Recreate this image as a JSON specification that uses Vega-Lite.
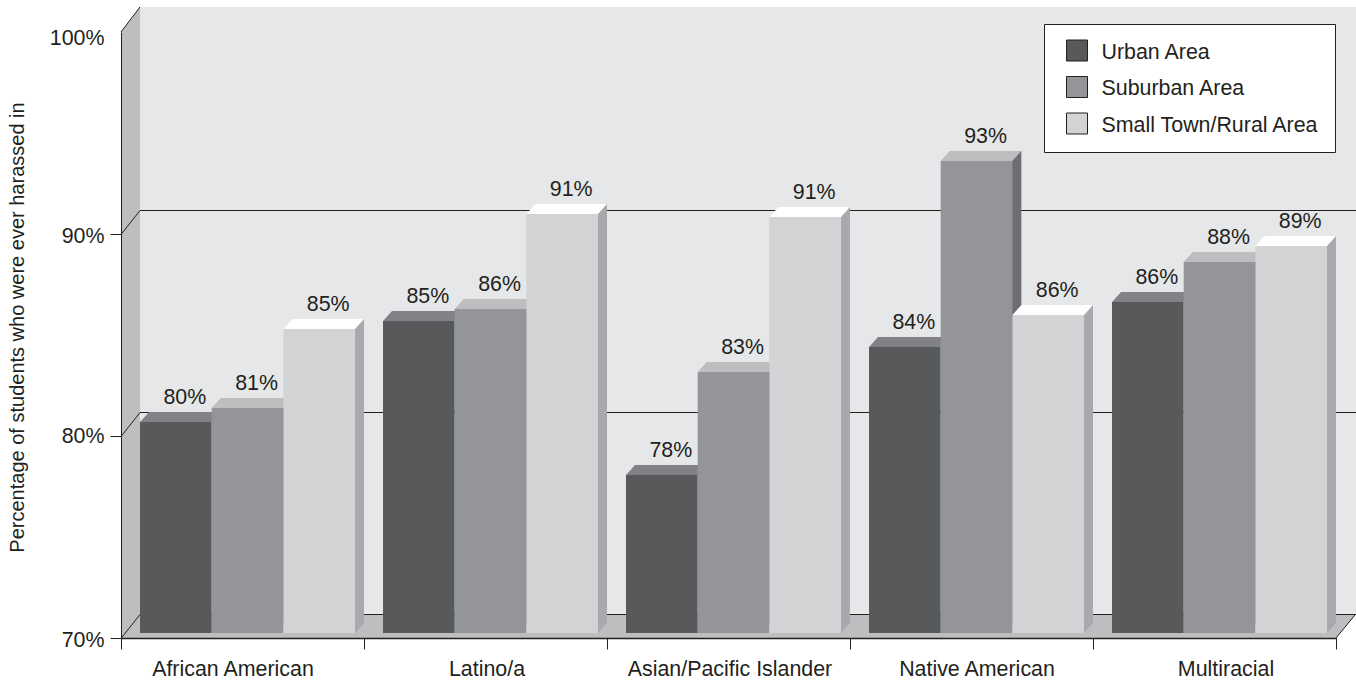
{"$schema":"https://vega.github.io/schema/vega-lite/v6.json","width":1215,"height":606,"autosize":{"type":"none"},"padding":{"left":121,"top":32,"right":20,"bottom":43},"background":"#ffffff",
"config":{"view":{"stroke":null},"font":"Liberation Sans","text":{"font":"Liberation Sans"},"axis":{"labelFont":"Liberation Sans","titleFont":"Liberation Sans","labelColor":"#231f20","titleColor":"#231f20"},"legend":{"labelFont":"Liberation Sans"}},
"datasets":{"bars":[
{"group":"African American","area":"Urban Area","pct":80.45,"label":"80%"},{"group":"African American","area":"Suburban Area","pct":81.14,"label":"81%"},{"group":"African American","area":"Small Town/Rural Area","pct":85.05,"label":"85%"},
{"group":"Latino/a","area":"Urban Area","pct":85.45,"label":"85%"},{"group":"Latino/a","area":"Suburban Area","pct":86.04,"label":"86%"},{"group":"Latino/a","area":"Small Town/Rural Area","pct":90.74,"label":"91%"},
{"group":"Asian/Pacific Islander","area":"Urban Area","pct":77.82,"label":"78%"},{"group":"Asian/Pacific Islander","area":"Suburban Area","pct":82.92,"label":"83%"},{"group":"Asian/Pacific Islander","area":"Small Town/Rural Area","pct":90.59,"label":"91%"},
{"group":"Native American","area":"Urban Area","pct":84.16,"label":"84%"},{"group":"Native American","area":"Suburban Area","pct":93.37,"label":"93%"},{"group":"Native American","area":"Small Town/Rural Area","pct":85.74,"label":"86%"},
{"group":"Multiracial","area":"Urban Area","pct":86.39,"label":"86%"},{"group":"Multiracial","area":"Suburban Area","pct":88.37,"label":"88%"},{"group":"Multiracial","area":"Small Town/Rural Area","pct":89.16,"label":"89%"}],
"levels":[{"group":"African American","level":70},{"group":"African American","level":80},{"group":"African American","level":90}]},
"encoding":{"x":{"field":"group","type":"nominal","scale":{"domain":["African American","Latino/a","Asian/Pacific Islander","Native American","Multiracial"],"paddingInner":0,"paddingOuter":0},
"axis":{"title":null,"labelAngle":0,"labelFontSize":21.4,"labelLimit":400,"tickColor":"#231f20","tickSize":11,"tickBand":"extent","domainColor":"#231f20","domainWidth":1.5,"labelPadding":9,"labelColor":"#231f20","zindex":1,"labelOffset":{"condition":[{"test":"datum.value=='African American'","value":-10},{"test":"datum.value=='Native American'","value":5},{"test":"datum.value=='Multiracial'","value":11}],"value":1}}},
"y":{"type":"quantitative","scale":{"domain":[70,100],"nice":false,"zero":false},
"axis":{"title":"Percentage of students who were ever harassed in","titleFontSize":20,"titleFontWeight":"normal","titleX":-94,"titleY":295,"values":[70,80,90,100],"labelExpr":"datum.value+'%'","labelFontSize":21.4,"labelPadding":6,"tickSize":11,"tickColor":{"condition":{"test":"datum.value==100","value":"transparent"},"value":"#231f20"},"domainColor":"#231f20","grid":false,"zindex":1,"labelOffset":{"condition":[{"test":"datum.value==100","value":6},{"test":"datum.value==80","value":0}],"value":2}}}},
"layer":[
{"data":{"name":"levels"},"transform":[{"filter":"datum.level==70"}],"layer":[
{"mark":{"type":"point","shape":"M19 -23L1235 -23L1235 -631L19 -631Z","size":4,"filled":true,"fill":"#e6e7e8","stroke":null,"opacity":1},"encoding":{"x":{"field":"group","type":"nominal","bandPosition":0},"y":{"field":"level","type":"quantitative"}}},
{"mark":{"type":"point","shape":"M0 0L19 -23L19 -631L0 -606ZM0 0L1215 0L1234 -23L19 -23Z","size":4,"filled":true,"fill":"#bcbec0","stroke":null,"opacity":1},"encoding":{"x":{"field":"group","type":"nominal","bandPosition":0},"y":{"field":"level","type":"quantitative"}}},
{"mark":{"type":"point","shape":"M0 -606L19 -631M1215 0L1234 -23","size":4,"filled":false,"stroke":"#231f20","strokeWidth":1,"opacity":1},"encoding":{"x":{"field":"group","type":"nominal","bandPosition":0},"y":{"field":"level","type":"quantitative"}}}]},
{"data":{"name":"levels"},"mark":{"type":"point","shape":"M0 0.5L19 -23.5L1235 -23.5","size":4,"filled":false,"stroke":"#231f20","strokeWidth":1,"opacity":1},"encoding":{"x":{"field":"group","type":"nominal","bandPosition":0},"y":{"field":"level","type":"quantitative"}}},
{"data":{"name":"bars"},"resolve":{"scale":{"xOffset":"independent"}},"encoding":{"y":{"field":"pct","type":"quantitative"},"xOffset":{"field":"area","type":"nominal","scale":{"type":"band","domain":["Urban Area","Suburban Area","Small Town/Rural Area"],"paddingInner":0,"paddingOuter":0.195,"align":0.68}}},
"layer":[
{"transform":[{"filter":"datum.area=='Urban Area'"}],"layer":[
{"mark":{"type":"point","shape":"M-35.8 0L35.8 0L44.8 -10L-26.8 -10Z","size":4,"filled":true,"fill":"#808285","stroke":null,"opacity":1,"yOffset":-5}},
{"mark":{"type":"bar","yOffset":-5,"y2Offset":-5},"encoding":{"y2":{"datum":70},"color":{"field":"area","type":"nominal","scale":{"domain":["Urban Area","Suburban Area","Small Town/Rural Area"],"range":["#58595b","#939598","#d1d3d4"]},
"legend":{"title":null,"orient":"none","legendX":923,"legendY":-8,"symbolType":"square","symbolSize":441,"symbolStrokeColor":"#231f20","symbolStrokeWidth":1,"symbolOffset":6.5,"labelFontSize":21.4,"labelColor":"#231f20","labelOffset":13.5,"rowPadding":10.5,"padding":15.5,"strokeColor":"#231f20","fillColor":"#ffffff","labelLimit":340,"labelExpr":"datum.label+'\u00a0\u00a0\u2009'","encoding":{"labels":{"dy":{"value":2}}}}}}}]},
{"transform":[{"filter":"datum.area=='Suburban Area'"}],"resolve":{"scale":{"xOffset":"independent"}},"layer":[
{"mark":{"type":"bar","color":"#6d6e71","yOffset":-15,"y2Offset":-15},"encoding":{"xOffset":{"field":"area","type":"nominal","scale":{"type":"band","domain":["Urban Area","Suburban Area","Small Town/Rural Area"],"paddingInner":0,"paddingOuter":0.195,"align":1}},"y2":{"datum":70}}},
{"layer":[
{"mark":{"type":"point","shape":"M-35.8 0L35.8 0L44.8 -10L-26.8 -10Z","size":4,"filled":true,"fill":"#bcbec0","stroke":null,"opacity":1,"yOffset":-5}},
{"mark":{"type":"bar","yOffset":-5,"y2Offset":-5},"encoding":{"y2":{"datum":70},"color":{"field":"area","type":"nominal"}}}]}]},
{"transform":[{"filter":"datum.area=='Small Town/Rural Area'"}],"resolve":{"scale":{"xOffset":"independent"}},"layer":[
{"mark":{"type":"bar","color":"#a7a9ac","yOffset":-15,"y2Offset":-15},"encoding":{"xOffset":{"field":"area","type":"nominal","scale":{"type":"band","domain":["Urban Area","Suburban Area","Small Town/Rural Area"],"paddingInner":0,"paddingOuter":0.195,"align":1}},"y2":{"datum":70}}},
{"layer":[
{"mark":{"type":"point","shape":"M-35.8 0L35.8 0L44.8 -10L-26.8 -10Z","size":4,"filled":true,"fill":"#ffffff","stroke":null,"opacity":1,"yOffset":-5}},
{"mark":{"type":"point","shape":"M35.8 0L44.8 -10L35.8 -10Z","size":4,"filled":true,"fill":"#a7a9ac","stroke":null,"opacity":1,"yOffset":-5},"encoding":{"y":{"datum":70}}},
{"mark":{"type":"bar","yOffset":-5,"y2Offset":-5},"encoding":{"y2":{"datum":70},"color":{"field":"area","type":"nominal"}}}]}]},
{"mark":{"type":"text","dx":9,"dy":-29,"fontSize":21.4,"color":"#231f20","font":"Liberation Sans"},"encoding":{"text":{"field":"label"}}}
]}
]}
